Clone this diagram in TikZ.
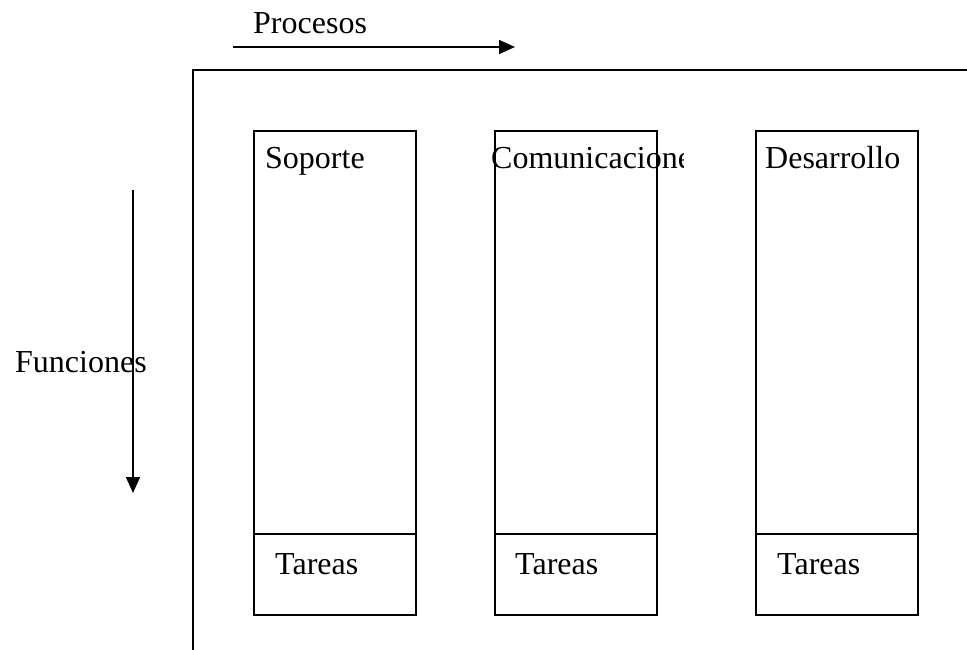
\documentclass[tikz,border=0pt]{standalone}
\usepackage{fontspec}
\setmainfont{Liberation Serif}
\usetikzlibrary{arrows.meta}
\begin{document}
\begin{tikzpicture}[x=1pt,y=-1pt,
  lbl/.style={anchor=base west,inner sep=0pt,font=\fontsize{32}{38}\selectfont},
  colbox/.style={draw,line width=1.6pt,anchor=north west,inner sep=0pt,minimum width=162pt},
  tarbox/.style={colbox,minimum height=81pt},
  topbox/.style={colbox,minimum height=403pt},
  frame/.style={line width=1.8pt},
  axarrow/.style={line width=1.6pt,-{Triangle[length=16pt,width=14pt]}}]
\useasboundingbox (0,0) rectangle (967,650);
% frame
\coordinate (fTL) at (193,70);
\coordinate (fTR) at (967,70);
\coordinate (fBL) at (193,650);
\draw[frame] (fTR) -- (fTL) -- (fBL);
% Procesos arrow
\node[lbl] (proc) at (253,34) {Procesos};
\coordinate (pA) at (233,47);
\coordinate (pB) at (515,47);
\draw[axarrow] (pA) -- (pB);
% Funciones arrow
\coordinate (fA) at (133,190);
\coordinate (fB) at (133,493);
\draw[axarrow] (fA) -- (fB);
\node[lbl] (func) at (15,372) {Funciones};
% columns
\node[topbox] (c1) at (253,130) {};
\node[tarbox] (t1) at (253,533) {};
\node[topbox] (c2) at (494,130) {};
\node[tarbox] (t2) at (494,533) {};
\node[topbox] (c3) at (755,130) {};
\node[tarbox] (t3) at (755,533) {};
\node[lbl] (s1) at (265,169) {Soporte};
\begin{scope}
\clip (0,0) rectangle (683,650);
\node[lbl] (s2) at (491,169) {Comunicaciones};
\end{scope}
\node[lbl] (s3) at (765,169) {Desarrollo};
\node[lbl] (ta1) at (275,574) {Tareas};
\node[lbl] (ta2) at (515,574) {Tareas};
\node[lbl] (ta3) at (777,574) {Tareas};
\end{tikzpicture}
\end{document}
